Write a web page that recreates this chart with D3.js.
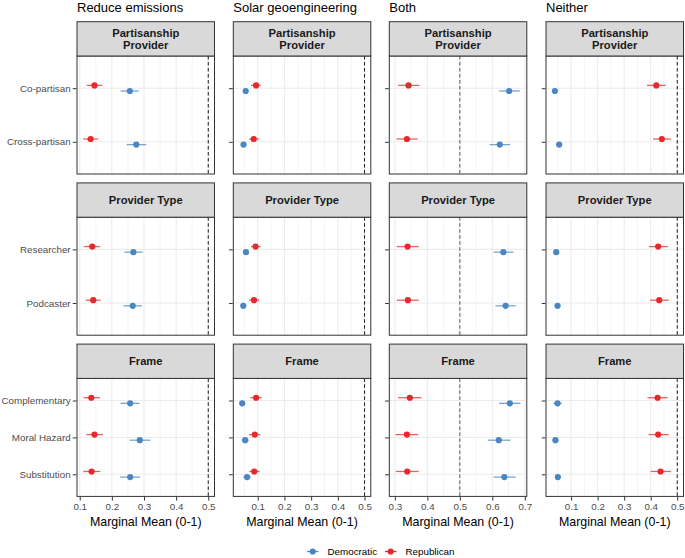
<!DOCTYPE html>
<html>
<head>
<meta charset="utf-8">
<script src="https://cdn.jsdelivr.net/npm/d3@7"></script>
<style>
  html, body { margin: 0; padding: 0; background: #fff; }
  svg { display: block; font-family: "Liberation Sans", Arial, Helvetica, sans-serif; }
</style>
</head>
<body>
<svg id="chart" width="685" height="558"></svg>
<script>
// ---------------- DATA ----------------
const outcomes = ["Reduce emissions", "Solar geoengineering", "Both", "Neither"];
const attributes = ["Partisanship Provider", "Provider Type", "Frame"];
const attributeLabelLines = [["Partisanship", "Provider"], ["Provider Type"], ["Frame"]];
const levelNames = ["Co-partisan", "Cross-partisan", "Researcher", "Podcaster", "Complementary", "Moral Hazard", "Substitution"];
const levelAttribute = [0, 0, 1, 1, 2, 2, 2];
const seriesNames = ["Democratic", "Republican"];
const xTicks = [
  [0.1, 0.2, 0.3, 0.4, 0.5],
  [0.1, 0.2, 0.3, 0.4, 0.5],
  [0.3, 0.4, 0.5, 0.6, 0.7],
  [0.1, 0.2, 0.3, 0.4, 0.5]
];
const referenceLine = 0.5;

// Reduce emissions
const demReduce   = [0.256, 0.276, 0.267, 0.265, 0.257, 0.287, 0.257];
const demReduceLo = [0.227, 0.246, 0.239, 0.236, 0.227, 0.255, 0.226];
const demReduceHi = [0.284, 0.307, 0.296, 0.294, 0.286, 0.320, 0.288];
const repReduce   = [0.146, 0.134, 0.139, 0.142, 0.136, 0.146, 0.137];
const repReduceLo = [0.122, 0.111, 0.113, 0.119, 0.112, 0.121, 0.111];
const repReduceHi = [0.170, 0.158, 0.163, 0.165, 0.163, 0.172, 0.164];
// Solar geoengineering
const demSolar   = [0.055, 0.047, 0.056, 0.046, 0.042, 0.053, 0.060];
const demSolarLo = [0.045, 0.037, 0.046, 0.036, 0.032, 0.040, 0.046];
const demSolarHi = [0.065, 0.057, 0.066, 0.056, 0.052, 0.066, 0.074];
const repSolar   = [0.094, 0.085, 0.092, 0.086, 0.094, 0.089, 0.087];
const repSolarLo = [0.075, 0.068, 0.075, 0.068, 0.072, 0.067, 0.068];
const repSolarHi = [0.111, 0.104, 0.111, 0.105, 0.115, 0.110, 0.107];
// Both
const demBoth   = [0.652, 0.623, 0.634, 0.641, 0.654, 0.620, 0.637];
const demBothLo = [0.621, 0.592, 0.604, 0.610, 0.621, 0.586, 0.604];
const demBothHi = [0.685, 0.655, 0.665, 0.672, 0.687, 0.656, 0.672];
const repBoth   = [0.342, 0.337, 0.339, 0.340, 0.346, 0.337, 0.338];
const repBothLo = [0.310, 0.305, 0.306, 0.306, 0.310, 0.302, 0.303];
const repBothHi = [0.375, 0.370, 0.373, 0.373, 0.382, 0.372, 0.373];
// Neither
const demNeither   = [0.039, 0.055, 0.044, 0.049, 0.049, 0.041, 0.050];
const demNeitherLo = [0.029, 0.045, 0.034, 0.039, 0.033, 0.030, 0.040];
const demNeitherHi = [0.049, 0.065, 0.054, 0.059, 0.065, 0.052, 0.060];
const repNeither   = [0.421, 0.442, 0.428, 0.432, 0.426, 0.428, 0.437];
const repNeitherLo = [0.386, 0.409, 0.393, 0.398, 0.388, 0.392, 0.400];
const repNeitherHi = [0.456, 0.477, 0.465, 0.468, 0.464, 0.468, 0.476];

const estimates = [
  { dem: [demReduce, demReduceLo, demReduceHi], rep: [repReduce, repReduceLo, repReduceHi] },
  { dem: [demSolar, demSolarLo, demSolarHi],    rep: [repSolar, repSolarLo, repSolarHi] },
  { dem: [demBoth, demBothLo, demBothHi],       rep: [repBoth, repBothLo, repBothHi] },
  { dem: [demNeither, demNeitherLo, demNeitherHi], rep: [repNeither, repNeitherLo, repNeitherHi] }
];

// ---------------- LAYOUT / STYLE ----------------
const colors = { Democratic: "#4a86c0", Republican: "#e8282b" };
const colX0 = [77, 233.3, 389.3, 546];
const panelW = 137.5;
const rowTop0 = 21.7, rowStep = 161.2, stripH = 34.3, panelH = 118;
const svg = d3.select("#chart");
const color = d3.scaleOrdinal().domain(seriesNames).range([colors.Democratic, colors.Republican]);
const dodge = d3.scalePoint().domain(["Republican", "Democratic"]).range([-2.8, 2.8]);

outcomes.forEach((outcome, c) => {
  const est = estimates[c];
  const rows = [];
  levelNames.forEach((lv, i) => {
    rows.push({ level: lv, att: levelAttribute[i], series: "Democratic", est: est.dem[0][i], lo: est.dem[1][i], hi: est.dem[2][i] });
    rows.push({ level: lv, att: levelAttribute[i], series: "Republican", est: est.rep[0][i], lo: est.rep[1][i], hi: est.rep[2][i] });
  });
  const mn = Math.min(d3.min(rows, d => d.lo), referenceLine);
  const mx = Math.max(d3.max(rows, d => d.hi), referenceLine);
  const pad = (mx - mn) * 0.05;
  const x = d3.scaleLinear().domain([mn - pad, mx + pad]).range([colX0[c], colX0[c] + panelW]);

  // Title
  svg.append("text").attr("x", colX0[c]).attr("y", 11.8)
    .attr("font-size", 13).attr("fill", "#000").text(outcome);

  // grid positions every 0.05 (major at 0.1 multiples, minor between)
  const gridVals = d3.range(Math.ceil((mn - pad) / 0.05), Math.floor((mx + pad) / 0.05) + 1).map(k => +(k * 0.05).toFixed(2));

  attributes.forEach((att, r) => {
    const top = rowTop0 + r * rowStep;
    const pTop = top + stripH;
    const pBot = pTop + panelH;
    const lv = levelNames.filter((_, i) => levelAttribute[i] === r);
    const y = d3.scalePoint().domain(lv).range([pTop, pBot]).padding(0.6);
    const g = svg.append("g");

    const isMajor = v => Math.abs(v * 10 - Math.round(v * 10)) < 1e-6;
    g.selectAll("line.grid-x").data(gridVals).join("line")
      .attr("x1", d => x(d)).attr("x2", d => x(d))
      .attr("y1", pTop).attr("y2", pBot)
      .attr("stroke", "#ebebeb").attr("stroke-width", d => isMajor(d) ? 1.05 : 0.55);
    g.selectAll("line.grid-y").data(lv).join("line")
      .attr("x1", colX0[c]).attr("x2", colX0[c] + panelW)
      .attr("y1", d => y(d)).attr("y2", d => y(d))
      .attr("stroke", "#ebebeb").attr("stroke-width", 1.05);

    // reference line
    g.append("line")
      .attr("x1", x(referenceLine)).attr("x2", x(referenceLine))
      .attr("y1", pTop).attr("y2", pBot)
      .attr("stroke", c === 2 ? "#555" : "#1a1a1a").attr("stroke-width", 1)
      .attr("stroke-dasharray", "3.5,2.5");

    const data = rows.filter(d => d.att === r);
    g.selectAll("line.err").data(data).join("line")
      .attr("x1", d => x(d.lo)).attr("x2", d => x(d.hi))
      .attr("y1", d => y(d.level) + dodge(d.series)).attr("y2", d => y(d.level) + dodge(d.series))
      .attr("stroke", d => color(d.series)).attr("stroke-width", 1.3).attr("stroke-opacity", 0.75);
    g.selectAll("circle").data(data).join("circle")
      .attr("cx", d => x(d.est)).attr("cy", d => y(d.level) + dodge(d.series))
      .attr("r", 3.1).attr("fill", d => color(d.series));

    // panel border
    g.append("rect").attr("x", colX0[c]).attr("y", pTop).attr("width", panelW).attr("height", panelH)
      .attr("fill", "none").attr("stroke", "#333").attr("stroke-width", 1);
    // strip
    g.append("rect").attr("x", colX0[c]).attr("y", top).attr("width", panelW).attr("height", stripH)
      .attr("fill", "#d9d9d9").attr("stroke", "#333").attr("stroke-width", 1);
    const lines = attributeLabelLines[r];
    const lh = 11.6;
    lines.forEach((t, k) => {
      g.append("text")
        .attr("x", colX0[c] + panelW / 2)
        .attr("y", top + stripH / 2 + (k - (lines.length - 1) / 2) * lh)
        .attr("dy", "0.36em")
        .attr("text-anchor", "middle").attr("font-weight", "bold")
        .attr("font-size", 11.2).attr("fill", "#1a1a1a").text(t);
    });

    // y axis ticks
    const yAxis = d3.axisLeft(y).tickSize(3.7).tickPadding(2.2).tickFormat(c === 0 ? (d => d) : () => "");
    const ya = svg.append("g").attr("transform", `translate(${colX0[c] - 0.5},0)`).call(yAxis);
    ya.select(".domain").remove();
    ya.selectAll(".tick line").attr("stroke", "#333").attr("stroke-width", 1);
    ya.selectAll(".tick text").attr("font-size", 9.8).attr("fill", "#4d4d4d")
      .attr("font-family", "Liberation Sans, Arial, sans-serif");

    // x axis in bottom row
    if (r === attributes.length - 1) {
      const xAxis = d3.axisBottom(x).tickValues(xTicks[c]).tickSize(3.7).tickPadding(2.2)
        .tickFormat(d3.format(".1f"));
      const xa = svg.append("g").attr("transform", `translate(0,${pBot + 0.5})`).call(xAxis);
      xa.select(".domain").remove();
      xa.selectAll(".tick line").attr("stroke", "#333").attr("stroke-width", 1);
      xa.selectAll(".tick text").attr("font-size", 9.8).attr("fill", "#4d4d4d")
        .attr("font-family", "Liberation Sans, Arial, sans-serif");
      svg.append("text").attr("x", colX0[c] + panelW / 2).attr("y", pBot + 29.8)
        .attr("text-anchor", "middle").attr("font-size", 12.4).attr("fill", "#000")
        .text("Marginal Mean (0-1)");
    }
  });
});

// ---------------- LEGEND ----------------
const legendX = [305, 383];
const legendY = 551.5;
seriesNames.forEach((s, i) => {
  const g = svg.append("g").attr("transform", `translate(${legendX[i]},${legendY})`);
  g.append("line").attr("x1", 2).attr("x2", 13.5).attr("y1", 0).attr("y2", 0)
    .attr("stroke", color(s)).attr("stroke-width", 1.3);
  g.append("circle").attr("cx", 7.7).attr("cy", 0).attr("r", 3.1).attr("fill", color(s));
  g.append("text").attr("x", 22.5).attr("y", 0).attr("dy", "0.35em")
    .attr("font-size", 9.8).attr("fill", "#000").text(s);
});
</script>
</body>
</html>
